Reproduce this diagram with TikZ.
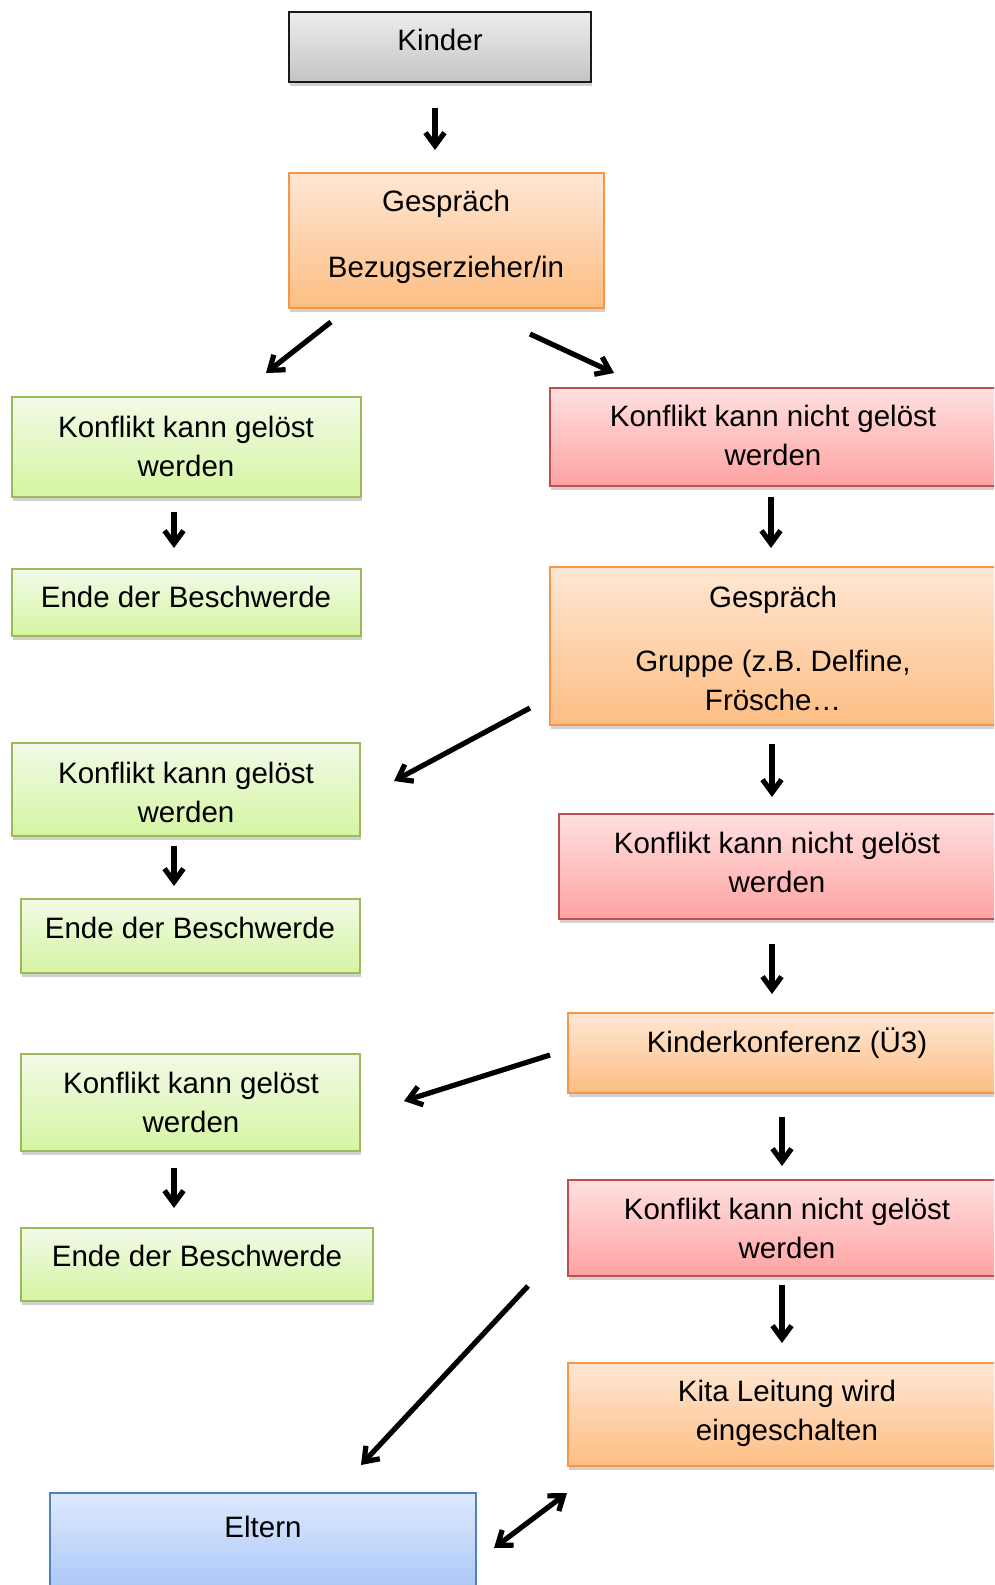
\documentclass[tikz,border=0pt]{standalone}
\usepackage{fontspec}
\setmainfont{Liberation Sans}
\usetikzlibrary{arrows.meta,shadows}
\definecolor{grayT}{HTML}{EDEDED}\definecolor{grayB}{HTML}{C4C4C4}\definecolor{grayD}{HTML}{1A1A1A}
\definecolor{orT}{HTML}{FFE7D4}\definecolor{orB}{HTML}{FDBD83}\definecolor{orD}{HTML}{F79646}
\definecolor{grT}{HTML}{F2FAE8}\definecolor{grB}{HTML}{D5F5A2}\definecolor{grD}{HTML}{9BBB59}
\definecolor{rdT}{HTML}{FFE0E0}\definecolor{rdB}{HTML}{FFA2A2}\definecolor{rdD}{HTML}{C0504D}
\definecolor{blT}{HTML}{DEE9FC}\definecolor{blB}{HTML}{A5C4F8}\definecolor{blD}{HTML}{4F81BD}
\tikzset{
  box/.style={rectangle, inner sep=0pt, outer sep=0pt, line width=1.8pt,
    drop shadow={shadow xshift=1pt, shadow yshift=-4pt, opacity=0.18, fill=black}},
  graybox/.style={box, draw=grayD, top color=grayT, bottom color=grayB},
  orbox/.style={box, draw=orD, top color=orT, bottom color=orB},
  grbox/.style={box, draw=grD, top color=grT, bottom color=grB},
  rdbox/.style={box, draw=rdD, top color=rdT, bottom color=rdB},
  blbox/.style={box, draw=blD, top color=blT, bottom color=blB},
  txt/.style={align=center, inner sep=0pt, font=\fontsize{29.5}{39}\selectfont},
  tip/.tip={Straight Barb[length=13pt,width=19pt]},
  arr/.style={line width=5.2pt, -tip},
  darr/.style={line width=5.2pt, tip-tip}
}
\begin{document}
\begin{tikzpicture}[x=1pt,y=-1pt]
\clip (0,0) rectangle (994,1585);
\fill[white] (0,0) rectangle (994,1585);
% boxes
\node[graybox, minimum width=302, minimum height=70] (kinder) at (440,47) {};
\node[orbox, minimum width=315, minimum height=135] (g1) at (446.5,240.5) {};
\node[grbox, minimum width=349, minimum height=100] (gr1) at (186.5,447) {};
\node[grbox, minimum width=349, minimum height=67] (e1) at (186.5,602.5) {};
\node[rdbox, minimum width=450, minimum height=98] (r1) at (775,437) {};
\node[orbox, minimum width=450, minimum height=158] (g2) at (775,646) {};
\node[grbox, minimum width=348, minimum height=93] (gr2) at (186,789.5) {};
\node[grbox, minimum width=339, minimum height=74] (e2) at (190.5,936) {};
\node[rdbox, minimum width=441, minimum height=105] (r2) at (779.5,866.5) {};
\node[orbox, minimum width=442, minimum height=80] (kk) at (789,1053) {};
\node[grbox, minimum width=339, minimum height=97] (gr3) at (190.5,1102.5) {};
\node[grbox, minimum width=352, minimum height=73] (e3) at (197,1264.5) {};
\node[rdbox, minimum width=442, minimum height=96] (r3) at (789,1228) {};
\node[orbox, minimum width=442, minimum height=103] (kita) at (789,1414.5) {};
\node[blbox, minimum width=426, minimum height=107] (eltern) at (263,1546.5) {};
% texts
\node[txt] (kinder-t) at (440,40) {Kinder};
\node[txt] (g1-t) at (446,237) {Gespräch\\[27pt]Bezugserzieher/in};
\node[txt] (gr1-t) at (186,446) {Konflikt kann gelöst\\werden};
\node[txt] (e1-t) at (186,597) {Ende der Beschwerde};
\node[txt] (r1-t) at (773,435.5) {Konflikt kann nicht gelöst\\werden};
\node[txt] (g2-t) at (773,648.5) {Gespräch\\[25pt]Gruppe (z.B. Delfine,\\Frösche…};
\node[txt] (gr2-t) at (186,792) {Konflikt kann gelöst\\werden};
\node[txt] (e2-t) at (190,928) {Ende der Beschwerde};
\node[txt] (r2-t) at (777,862) {Konflikt kann nicht gelöst\\werden};
\node[txt] (kk-t) at (787,1043) {Kinderkonferenz (Ü3)};
\node[txt] (gr3-t) at (191,1102) {Konflikt kann gelöst\\werden};
\node[txt] (e3-t) at (197,1256) {Ende der Beschwerde};
\node[txt] (r3-t) at (787,1228) {Konflikt kann nicht gelöst\\werden};
\node[txt] (kita-t) at (787,1413) {Kita Leitung wird\\eingeschalten};
\node[txt] (eltern-t) at (263,1527) {Eltern};
% connector ends
\coordinate (a1s) at (435,108);  \coordinate (a1e) at (435,150);
\coordinate (a2s) at (331,322);  \coordinate (a2e) at (266,373);
\coordinate (a3s) at (530,334);  \coordinate (a3e) at (614,373);
\coordinate (a4s) at (174,512);  \coordinate (a4e) at (174,548);
\coordinate (a5s) at (771,497);  \coordinate (a5e) at (771,548);
\coordinate (a6s) at (530,708);  \coordinate (a6e) at (394,781);
\coordinate (a7s) at (772,744);  \coordinate (a7e) at (772,797);
\coordinate (a8s) at (174,846);  \coordinate (a8e) at (174,886);
\coordinate (a9s) at (772,944);  \coordinate (a9e) at (772,994);
\coordinate (a10s) at (550,1055); \coordinate (a10e) at (404,1101);
\coordinate (a11s) at (782,1117); \coordinate (a11e) at (782,1166);
\coordinate (a12s) at (174,1168); \coordinate (a12e) at (174,1208);
\coordinate (a13s) at (782,1285); \coordinate (a13e) at (782,1343);
\coordinate (a14s) at (528,1286); \coordinate (a14e) at (361,1465);
\coordinate (a15s) at (494,1548); \coordinate (a15e) at (567,1493);
\draw[arr] (a1s) -- (a1e);
\draw[arr] (a2s) -- (a2e);
\draw[arr] (a3s) -- (a3e);
\draw[arr] (a4s) -- (a4e);
\draw[arr] (a5s) -- (a5e);
\draw[arr] (a6s) -- (a6e);
\draw[arr] (a7s) -- (a7e);
\draw[arr] (a8s) -- (a8e);
\draw[arr] (a9s) -- (a9e);
\draw[arr] (a10s) -- (a10e);
\draw[arr] (a11s) -- (a11e);
\draw[arr] (a12s) -- (a12e);
\draw[arr] (a13s) -- (a13e);
\draw[arr] (a14s) -- (a14e);
\draw[darr] (a15s) -- (a15e);
\end{tikzpicture}
\end{document}
